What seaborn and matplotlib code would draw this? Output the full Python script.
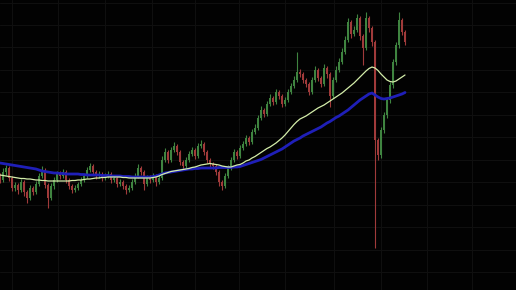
import numpy as np
import pandas as pd
import matplotlib
matplotlib.use("Agg")
import matplotlib.pyplot as plt
import seaborn as sns

# ---- data (price units) ----
open_ = [114,110,118,122,112,102,105,100,108,98, 92,102,98,106,114,120,105,92,104,110,
         116,114,118,110,104,100,102,106,110,114, 120,124,118,114,116,112,114,116,110,112,
         106,108,104,100,102,108,114,122,118,106, 112,110,114,108,112,130,138,130,140,144,
         138,128,124,130,136,140,134,144,146,138, 130,126,124,118,108,104,114,122,130,138,
         134,142,146,152,148,158,162,172,180,176, 186,192,188,198,194,186,190,198,204,210,
         218,216,210,206,198,210,220,212,206,222, 216,194,210,220,228,238,250,268,256,260,
         272,254,242,272,262,248,150,135,160,175, 190,205,228,245,270,258]
close = [110,118,122,112,102,105,100,108,98,92, 102,98,106,114,120,105,92,104,110,116,
         114,118,110,104,100,102,106,110,114,120, 124,118,114,116,112,114,116,110,112,106,
         108,104,100,102,108,114,122,118,106,112, 110,114,108,112,130,138,130,140,144,138,
         128,124,130,136,140,134,144,146,138,130, 126,124,118,108,104,114,122,130,138,134,
         142,146,152,148,158,162,172,180,176,186, 192,188,198,194,186,190,198,204,210,218,
         216,210,206,198,210,220,212,206,222,216, 194,210,220,228,238,250,268,256,260,272,
         254,242,272,262,248,150,135,160,175,190, 205,228,245,270,258,248]
high = [117,122,125,124,114,108,107,111,110,100, 105,104,109,117,124,122,107,107,113,119,
        119,121,120,112,106,105,108,113,116,123, 127,126,120,119,118,117,119,118,115,114,
        111,110,106,105,111,117,126,124,120,115, 115,117,116,115,134,142,140,143,148,146,
        140,130,133,139,143,142,147,150,148,140, 132,128,126,120,110,117,125,133,141,140,
        145,149,155,154,161,166,175,184,182,189, 196,194,201,200,196,193,201,207,214,238,
        221,218,212,208,213,224,222,214,226,224, 218,213,224,232,242,254,272,270,264,276,
        274,256,278,274,264,250,152,163,178,193, 208,231,248,278,272,260]
low = [107,108,115,109,99,99,96,98,94,87, 90,95,96,104,112,102,82,90,101,108,
       111,112,107,101,97,98,100,104,108,112, 118,115,111,112,109,110,112,107,108,103,
       104,101,96,98,100,106,112,115,100,104, 107,108,104,106,110,128,127,128,138,135,
       125,121,122,128,134,131,132,142,135,127, 123,121,115,104,100,102,112,120,128,131,
       132,140,144,145,146,156,160,170,173,174, 184,185,186,191,183,184,188,196,202,208,
       213,207,203,195,196,208,209,203,204,212, 183,192,208,218,226,236,248,252,254,258,
       250,225,240,258,244,42,130,132,157,172, 187,202,225,242,255,245]
ma_fast = [115,114.5,114,113.5,113,112.5,112,111.5,111.5,111, 111,110.5,110,110,109.5,109.5,109,109,109,109,
           109,109,109,109,109.5,109.5,110,110,110.5,111, 111,111.5,112,112,112.5,112.5,113,113,113,113,
           113,112.5,112.5,112,112,112,112,112,112,112, 112,112.5,113,114,115.5,116.5,117.5,118.5,119,119.5,
           120,120.5,121,121.5,122.5,123,124,125,125.5,126, 126.5,126,125.5,125,124,123.5,123,123,124,125,
           125.5,127,129,130,132,133.5,135.5,137.5,139.5,141.5, 143,145,147,149.5,152,155,158.5,162,165.5,168.5,
           171,172.5,174,176,178,180,182,183.5,185,187, 189,191,193,195,197,199.5,202,204.5,207,210,
           213,216,219,221.5,223,222,219.5,216,213,210, 208.5,208,209,211,213,215]
ma_slow = [127,126.5,126,125.5,125,124.5,124,123.5,123,122.5, 122,121.5,121,120,119,118.5,118,117.5,117,117,
           116.5,116.5,116,116,116,116,116,115.5,115.5,115, 115,115,115,115,114.5,114.5,114.5,114,114,114,
           114,113.5,113.5,113.5,113,113,113,113,113,113, 113,113.5,114,115,116,117,117.5,118,118.5,119,
           119.5,120,120.5,121,121,121.5,121.5,122,122,122, 122,122,122,122.5,122.5,122.5,122.5,122.5,123,123,
           123.5,124.5,125.5,126.5,127.5,128.5,129.5,130.5,132,133.5, 135,136.5,138,139.5,141,143,145,147,149,150.5,
           152,154,155.5,157,158.5,160,161.5,163,165,167, 168.5,170.5,172.5,174,176,178,180,182.5,185,187.5,
           190,192,194,196,197,195,193,191.5,191,191.5, 192,193,194,195,196,197.5]

# ---- style ----
BG = "#020202"
GRID = "#0f0f0f"
UP = "#3f8440"
DOWN = "#a03a3a"

sns.set_theme(style="dark")
fig = plt.figure(figsize=(5.16, 2.90), dpi=100)
fig.patch.set_facecolor(BG)
ax = fig.add_axes([0, 0, 1, 1])
ax.set_facecolor(BG)

o = np.array(open_, float)
c = np.array(close, float)
h = np.array(high, float)
l = np.array(low, float)
idx = np.arange(len(c))
cols = np.where(c >= o, UP, DOWN)

ax.vlines(idx, l, h, colors=cols, lw=0.8, zorder=2)
ax.bar(idx, np.maximum(np.abs(c - o), 0.8), bottom=np.minimum(o, c), width=0.4,
       color=cols, linewidth=0, zorder=2)

df = pd.DataFrame({"i": idx, "fast": ma_fast, "slow": ma_slow})
sns.lineplot(data=df, x="i", y="slow", color="#1f1fb8", lw=2.0, ax=ax, zorder=3)
sns.lineplot(data=df, x="i", y="fast", color="#d4eeaa", lw=0.9, ax=ax, zorder=4)

ax.set_xlim(0, 172)
ax.set_ylim(0, 290)
ax.set_xticks([3.9, 19.4, 35.0, 50.6, 65.1, 79.6, 95.1, 111.2, 126.9, 142.4, 157.4])
ax.set_yticks(np.arange(18, 290, 22.45))
ax.grid(True, color=GRID, lw=0.8)
ax.set_axisbelow(True)
ax.tick_params(length=0, labelbottom=False, labelleft=False)
ax.set_xlabel("")
ax.set_ylabel("")
for s in ax.spines.values():
    s.set_visible(False)

fig.savefig("out.png", dpi=100, facecolor=BG)
